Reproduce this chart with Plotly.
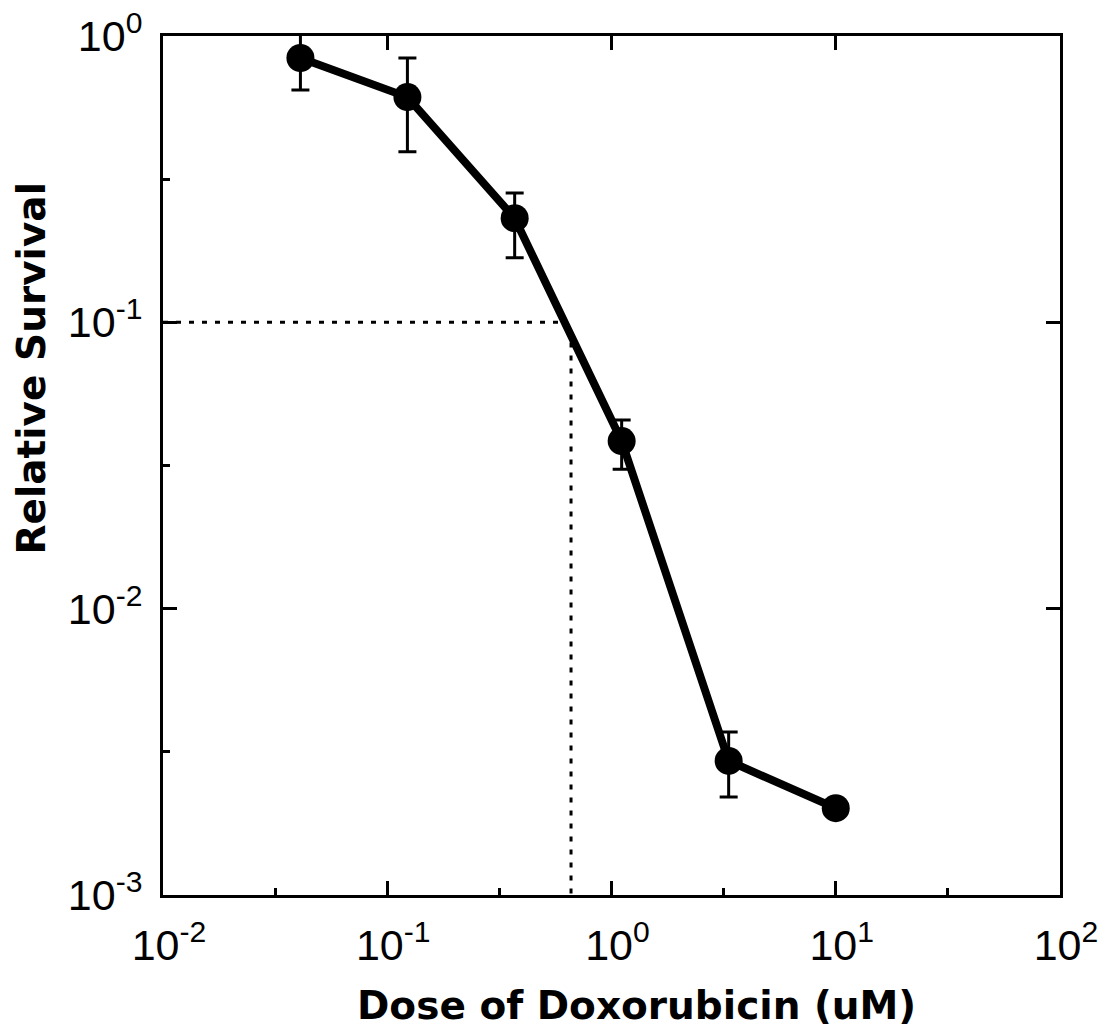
import plotly.graph_objects as go

# Doxorubicin dose-response (clonogenic survival)
dose_um = [0.041, 0.123, 0.37, 1.11, 3.33, 10.0]
survival = [0.838, 0.612, 0.231, 0.0385, 0.00294, 0.00201]
err_upper = [0.182, 0.226, 0.052, 0.0071, 0.00077, 0.0]
err_lower = [0.190, 0.218, 0.063, 0.0078, 0.00074, 0.0]

# 90% kill reference (IC90)
survival_level = 0.1
ic90_dose = 0.66
ic90_curve_survival = 0.085

x_major = [0.01, 0.1, 1, 10, 100]
x_major_text = ["10<sup>-2</sup>", "10<sup>-1</sup>", "10<sup>0</sup>", "10<sup>1</sup>", "10<sup>2</sup>"]
x_half = [0.0316, 0.316, 3.16, 31.6]
y_major = [0.001, 0.01, 0.1, 1]
y_major_text = ["10<sup>-3</sup>", "10<sup>-2</sup>", "10<sup>-1</sup>", "10<sup>0</sup>"]
y_half = [0.00316, 0.0316, 0.316]

x_title = "Dose of Doxorubicin (uM)"
y_title = "Relative Survival"

FONT = "Liberation Sans, Arial, Helvetica, sans-serif"
TITLE_FONT = "DejaVu Sans, Liberation Sans, Arial, sans-serif"
TICK_SIZE = 43

fig = go.Figure()

# dashed guides at 10% survival
guide = dict(color="black", width=3, dash="5px,8px")
fig.add_trace(go.Scatter(
    x=[x_major[0], ic90_dose * 0.9], y=[survival_level, survival_level],
    mode="lines", line=guide, hoverinfo="skip", showlegend=False))
fig.add_trace(go.Scatter(
    x=[ic90_dose, ic90_dose], y=[ic90_curve_survival, y_major[0]],
    mode="lines", line=guide, hoverinfo="skip", showlegend=False))

fig.add_trace(go.Scatter(
    x=dose_um, y=survival, mode="lines+markers",
    line=dict(color="black", width=8),
    marker=dict(color="black", size=28),
    error_y=dict(type="data", array=err_upper, arrayminus=err_lower,
                 color="black", thickness=3, width=9, symmetric=False),
    showlegend=False))

# invisible trace to anchor the mirrored top/right axes
fig.add_trace(go.Scatter(x=[1], y=[0.1], xaxis="x2", yaxis="y2",
                         mode="markers", marker=dict(opacity=0),
                         hoverinfo="skip", showlegend=False))

tick_style = dict(ticks="inside", ticklen=14, tickwidth=2.5, tickcolor="black",
                  showline=True, linecolor="black", linewidth=3,
                  showgrid=False, zeroline=False, automargin=False)
minor_style = dict(tickmode="array", ticks="inside", ticklen=7, tickwidth=2.5,
                   tickcolor="black", showgrid=False)

fig.update_layout(
    width=1107, height=1033,
    margin=dict(l=163, r=47, t=36, b=138),
    plot_bgcolor="white", paper_bgcolor="white",
    font=dict(family=FONT, color="black"),
    xaxis=dict(
        type="log", range=[-2, 2],
        tickmode="array", tickvals=x_major, ticktext=x_major_text,
        minor=dict(tickvals=x_half, **minor_style),
        tickfont=dict(size=TICK_SIZE, family=FONT),
        ticklabelstandoff=10, ticklabelshift=6,
        **tick_style,
    ),
    yaxis=dict(
        type="log", range=[-3, 0],
        tickmode="array", tickvals=y_major, ticktext=y_major_text,
        minor=dict(tickvals=y_half, **minor_style),
        tickfont=dict(size=TICK_SIZE, family=FONT),
        ticklabelstandoff=9,
        **tick_style,
    ),
    xaxis2=dict(
        type="log", range=[-2, 2], overlaying="x", side="top",
        tickmode="array", tickvals=x_major, showticklabels=False,
        **tick_style,
    ),
    yaxis2=dict(
        type="log", range=[-3, 0], overlaying="y", side="right",
        tickmode="array", tickvals=y_major, showticklabels=False,
        **tick_style,
    ),
    annotations=[
        dict(text=f"<b>{x_title}</b>", xref="paper", yref="paper",
             x=0.528, y=-0.129, xanchor="center", yanchor="middle",
             showarrow=False, font=dict(size=39, family=TITLE_FONT)),
        dict(text=f"<b>{y_title}</b>", xref="paper", yref="paper",
             x=-0.147, y=0.613, xanchor="center", yanchor="middle",
             textangle=-90, showarrow=False,
             font=dict(size=39, family=TITLE_FONT)),
    ],
)

fig.write_html("out.html")
